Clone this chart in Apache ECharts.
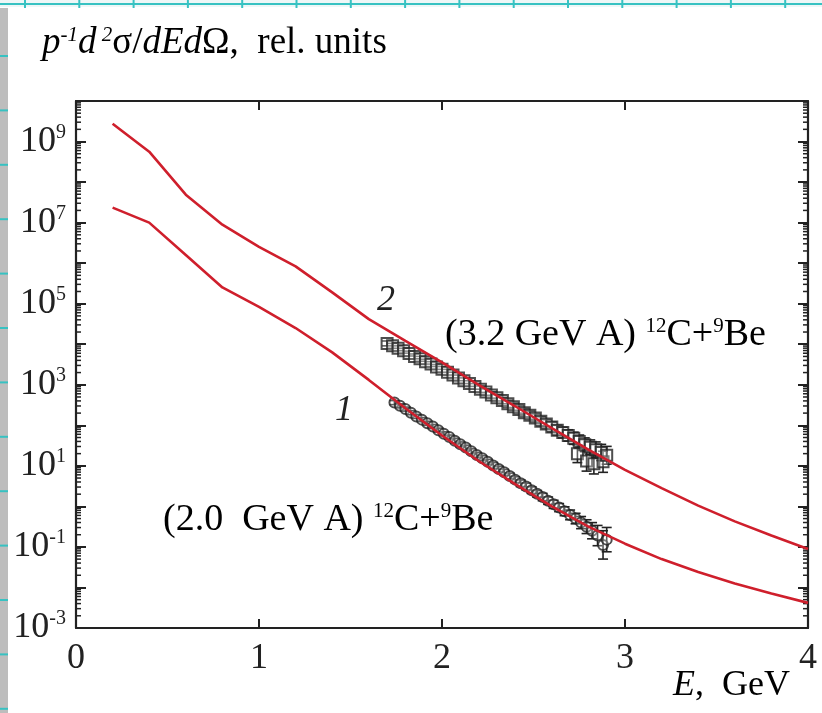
<!DOCTYPE html>
<html>
<head>
<meta charset="utf-8">
<script src="https://cdn.jsdelivr.net/npm/echarts@6/dist/echarts.min.js"></script>
<style>
  html, body { margin: 0; padding: 0; background: #ffffff; }
  #chart { width: 822px; height: 713px; }
</style>
</head>
<body>
<div id="chart"></div>
<script>
// Calculated spectra (log10 of p^-1 d2σ/dEdΩ, rel. units) on a common energy grid, GeV
const energyGrid = [0.2, 0.4, 0.6, 0.8, 1.0, 1.2, 1.4, 1.6, 1.8, 2.0, 2.2, 2.4, 2.6, 2.8, 3.0, 3.2, 3.4, 3.6, 3.8, 4.0];
const calc20Log = [7.37, 7.0, 6.2, 5.4, 4.92, 4.4, 3.8, 3.12, 2.42, 1.75, 1.12, 0.55, 0.0, -0.5, -0.92, -1.3, -1.62, -1.9, -2.15, -2.38];
const calc32Log = [9.44, 8.75, 7.69, 6.95, 6.4, 5.92, 5.28, 4.62, 4.08, 3.55, 3.0, 2.47, 1.93, 1.4, 0.9, 0.45, 0.02, -0.37, -0.72, -1.05];

// Measured points, 3.2 GeV/nucleon (squares): energy, log10 value, log10 error
const exp32E = [1.70, 1.73, 1.76, 1.79, 1.82, 1.85, 1.88, 1.91, 1.94, 1.97, 2.00, 2.03, 2.06, 2.09, 2.12, 2.15, 2.18, 2.21, 2.24, 2.27, 2.30, 2.33, 2.36, 2.39, 2.42, 2.45, 2.48, 2.51, 2.54, 2.57, 2.60, 2.63, 2.66, 2.69, 2.72, 2.74, 2.75, 2.78, 2.79, 2.81, 2.83, 2.84, 2.87, 2.88, 2.90];
const exp32Log = [4.02, 3.96, 3.90, 3.84, 3.77, 3.70, 3.64, 3.57, 3.51, 3.44, 3.38, 3.31, 3.24, 3.17, 3.10, 3.03, 2.96, 2.89, 2.82, 2.75, 2.68, 2.61, 2.53, 2.46, 2.39, 2.31, 2.25, 2.18, 2.10, 2.03, 1.96, 1.88, 1.82, 1.75, 1.68, 1.30, 1.60, 1.52, 1.12, 1.46, 1.05, 1.40, 1.33, 1.10, 1.26];
const exp32Err = [0.06, 0.06, 0.06, 0.06, 0.06, 0.06, 0.06, 0.06, 0.06, 0.06, 0.07, 0.07, 0.07, 0.07, 0.07, 0.07, 0.07, 0.08, 0.08, 0.08, 0.08, 0.08, 0.09, 0.09, 0.09, 0.10, 0.10, 0.10, 0.11, 0.11, 0.12, 0.12, 0.13, 0.14, 0.15, 0.22, 0.16, 0.17, 0.25, 0.18, 0.25, 0.19, 0.20, 0.26, 0.22];

// Measured points, 2.0 GeV/nucleon (circles)
const exp20E = [1.74, 1.77, 1.80, 1.83, 1.86, 1.89, 1.92, 1.95, 1.98, 2.01, 2.04, 2.07, 2.10, 2.13, 2.16, 2.19, 2.22, 2.25, 2.28, 2.31, 2.34, 2.37, 2.40, 2.43, 2.46, 2.49, 2.52, 2.55, 2.58, 2.61, 2.64, 2.67, 2.70, 2.73, 2.76, 2.79, 2.82, 2.85, 2.88, 2.90];
const exp20Log = [2.56, 2.48, 2.40, 2.31, 2.22, 2.14, 2.05, 1.97, 1.88, 1.79, 1.71, 1.62, 1.53, 1.45, 1.36, 1.27, 1.19, 1.10, 1.01, 0.92, 0.84, 0.75, 0.66, 0.57, 0.49, 0.40, 0.31, 0.23, 0.14, 0.05, -0.03, -0.12, -0.21, -0.30, -0.40, -0.50, -0.60, -0.72, -0.95, -0.82];
const exp20Err = [0.05, 0.05, 0.05, 0.05, 0.05, 0.05, 0.05, 0.05, 0.05, 0.05, 0.05, 0.06, 0.06, 0.06, 0.06, 0.06, 0.06, 0.06, 0.07, 0.07, 0.07, 0.07, 0.07, 0.08, 0.08, 0.08, 0.08, 0.09, 0.09, 0.10, 0.10, 0.11, 0.12, 0.13, 0.15, 0.17, 0.20, 0.25, 0.35, 0.30];

// Axis settings
const xTickValues = [0, 1, 2, 3, 4];
const yMinExp = -3;
const yMaxExp = 10;
const yLabelExps = [-3, -1, 1, 3, 5, 7, 9];

const SERIF = '"Liberation Serif", "Times New Roman", serif';
const INK = '#222222';
const RED = '#cf1f2c';

const pw = (e) => Math.pow(10, e);

const line32 = energyGrid.map((x, i) => [x, pw(calc32Log[i])]);
const line20 = energyGrid.map((x, i) => [x, pw(calc20Log[i])]);
const pts32 = exp32E.map((x, i) => [x, pw(exp32Log[i])]);
const pts20 = exp20E.map((x, i) => [x, pw(exp20Log[i])]);
const bars32 = exp32E.map((x, i) => [x, pw(exp32Log[i] - exp32Err[i]), pw(exp32Log[i] + exp32Err[i])]);
const bars20 = exp20E.map((x, i) => [x, pw(exp20Log[i] - exp20Err[i]), pw(exp20Log[i] + exp20Err[i])]);

// Minor log ticks (2..9 within every decade) for the left and right frame edges
const minorTicks = [];
for (let e = yMinExp; e < yMaxExp; e++) {
  for (let k = 2; k <= 9; k++) minorTicks.push([0, k * pw(e)]);
}

const supRich = {
  b: { fontFamily: SERIF, fontSize: 36, color: INK, lineHeight: 36, verticalAlign: 'bottom' },
  s: { fontFamily: SERIF, fontSize: 20, color: INK, lineHeight: 20, padding: [0, 0, 17, 0], verticalAlign: 'bottom' }
};

function errorBarItem(params, api) {
  const lo = api.coord([api.value(0), api.value(1)]);
  const hi = api.coord([api.value(0), api.value(2)]);
  const w = 5;
  const st = { stroke: INK, lineWidth: 1.6 };
  return {
    type: 'group',
    children: [
      { type: 'line', shape: { x1: lo[0], y1: lo[1], x2: hi[0], y2: hi[1] }, style: st },
      { type: 'line', shape: { x1: lo[0] - w, y1: lo[1], x2: lo[0] + w, y2: lo[1] }, style: st },
      { type: 'line', shape: { x1: hi[0] - w, y1: hi[1], x2: hi[0] + w, y2: hi[1] }, style: st }
    ]
  };
}

function minorTickItem(params, api) {
  const v = api.value(1);
  const L = api.coord([xTickValues[0], v]);
  const R = api.coord([xTickValues[xTickValues.length - 1], v]);
  const st = { stroke: INK, lineWidth: 1.5 };
  return {
    type: 'group',
    children: [
      { type: 'line', shape: { x1: L[0], y1: L[1], x2: L[0] + 5, y2: L[1] }, style: st },
      { type: 'line', shape: { x1: R[0] - 5, y1: R[1], x2: R[0], y2: R[1] }, style: st }
    ]
  };
}

// Graph-paper edge of the scanned page
const paper = [];
paper.push({ type: 'rect', shape: { x: 0, y: 0, width: 822, height: 7 }, style: { fill: '#eef7f7' }, z: -10 });
paper.push({ type: 'rect', shape: { x: 0, y: 8, width: 8, height: 705 }, style: { fill: '#bdbdbd' }, z: -9 });
paper.push({ type: 'line', shape: { x1: 0, y1: 4, x2: 822, y2: 4 }, style: { stroke: '#37c2c2', lineWidth: 2 }, z: -8 });
for (let x = 25; x < 822; x += 54.3) {
  paper.push({ type: 'line', shape: { x1: x, y1: 0, x2: x, y2: 8 }, style: { stroke: '#37c2c2', lineWidth: 2 }, z: -8 });
}
for (let y = 56; y < 713; y += 54.4) {
  paper.push({ type: 'line', shape: { x1: 0, y1: y, x2: 8, y2: y }, style: { stroke: '#37c2c2', lineWidth: 2 }, z: -8 });
}

const texts = [
  {
    type: 'text', left: 42, top: 25,
    style: {
      text: '{i|p}{s|-1}{i|d}{s| 2}{n|σ/}{i|dEd}{n|Ω,  rel. units}',
      rich: {
        i: { fontFamily: SERIF, fontStyle: 'italic', fontSize: 37, color: INK, lineHeight: 37, verticalAlign: 'bottom' },
        n: { fontFamily: SERIF, fontSize: 37, color: INK, lineHeight: 37, verticalAlign: 'bottom' },
        s: { fontFamily: SERIF, fontStyle: 'italic', fontSize: 21, color: INK, lineHeight: 21, padding: [0, 0, 16, 0], verticalAlign: 'bottom' }
      }
    }
  },
  {
    type: 'text', left: 377, top: 283,
    style: { text: '2', fontFamily: SERIF, fontStyle: 'italic', fontSize: 36, fill: INK }
  },
  {
    type: 'text', left: 335, top: 393,
    style: { text: '1', fontFamily: SERIF, fontStyle: 'italic', fontSize: 36, fill: INK }
  },
  {
    type: 'text', left: 445, top: 316,
    style: {
      text: '{b|(3.2 GeV A) }{s|12}{b|C+}{s|9}{b|Be}',
      rich: {
        b: { fontFamily: SERIF, fontSize: 38, color: INK, lineHeight: 38, verticalAlign: 'bottom' },
        s: { fontFamily: SERIF, fontSize: 21, color: INK, lineHeight: 21, padding: [0, 0, 17, 0], verticalAlign: 'bottom' }
      }
    }
  },
  {
    type: 'text', left: 163, top: 501,
    style: {
      text: '{b|(2.0  GeV A) }{s|12}{b|C+}{s|9}{b|Be}',
      rich: {
        b: { fontFamily: SERIF, fontSize: 38, color: INK, lineHeight: 38, verticalAlign: 'bottom' },
        s: { fontFamily: SERIF, fontSize: 21, color: INK, lineHeight: 21, padding: [0, 0, 17, 0], verticalAlign: 'bottom' }
      }
    }
  },
  {
    type: 'text', right: 32, top: 668,
    style: {
      text: '{i|E}{n|,  GeV}',
      rich: {
        i: { fontFamily: SERIF, fontStyle: 'italic', fontSize: 36, color: INK },
        n: { fontFamily: SERIF, fontSize: 36, color: INK }
      }
    }
  }
];

const frameLine = { show: true, onZero: false, lineStyle: { color: INK, width: 2.2 } };

const xAxisBase = {
  type: 'value', min: xTickValues[0], max: xTickValues[xTickValues.length - 1], interval: 1,
  axisLine: frameLine,
  axisTick: { show: true, inside: true, length: 9, lineStyle: { color: INK, width: 2 } },
  splitLine: { show: false }
};

const yAxisBase = {
  type: 'log', logBase: 10, min: pw(yMinExp), max: pw(yMaxExp), interval: 1,
  axisLine: frameLine,
  axisTick: { show: true, inside: true, length: 10, lineStyle: { color: INK, width: 2 } },
  splitLine: { show: false }
};

const chart = echarts.init(document.getElementById('chart'), null, { renderer: 'canvas' });

chart.setOption({
  backgroundColor: '#ffffff',
  animation: false,
  grid: { left: 76, right: 14, top: 101, bottom: 85 },
  graphic: paper.concat(texts),
  xAxis: [
    Object.assign({}, xAxisBase, {
      position: 'bottom',
      axisLabel: {
        show: true, margin: 13, showMinLabel: true, showMaxLabel: true,
        fontFamily: SERIF, fontSize: 36, color: INK,
        formatter: (v) => String(v)
      }
    }),
    Object.assign({}, xAxisBase, { position: 'top', axisLabel: { show: false } })
  ],
  yAxis: [
    Object.assign({}, yAxisBase, {
      position: 'left',
      axisLabel: {
        show: true, margin: 10, showMinLabel: true, showMaxLabel: true,
        formatter: (v) => {
          const e = Math.round(Math.log10(v));
          return yLabelExps.indexOf(e) >= 0 ? '{b|10}{s|' + e + '}' : '';
        },
        rich: supRich
      }
    }),
    Object.assign({}, yAxisBase, { position: 'right', axisLabel: { show: false } })
  ],
  series: [
    {
      name: 'minor ticks', type: 'custom', xAxisIndex: 0, yAxisIndex: 0,
      data: minorTicks, renderItem: minorTickItem, silent: true, clip: false, z: 3
    },
    {
      name: 'err 3.2', type: 'custom', data: bars32, renderItem: errorBarItem,
      encode: { x: 0, y: [1, 2] }, silent: true, z: 2
    },
    {
      name: 'err 2.0', type: 'custom', data: bars20, renderItem: errorBarItem,
      encode: { x: 0, y: [1, 2] }, silent: true, z: 2
    },
    {
      name: '3.2 GeV A data', type: 'scatter', data: pts32,
      symbol: 'rect', symbolSize: 11,
      itemStyle: { color: 'rgba(255,255,255,0.35)', borderColor: INK, borderWidth: 2 }, z: 3
    },
    {
      name: '2.0 GeV A data', type: 'scatter', data: pts20,
      symbol: 'circle', symbolSize: 10,
      itemStyle: { color: 'rgba(255,255,255,0.35)', borderColor: INK, borderWidth: 2 }, z: 3
    },
    {
      name: '3.2 GeV A calc', type: 'line', data: line32, showSymbol: false,
      lineStyle: { color: RED, width: 2.6 }, z: 5
    },
    {
      name: '2.0 GeV A calc', type: 'line', data: line20, showSymbol: false,
      lineStyle: { color: RED, width: 2.6 }, z: 5
    }
  ]
});
</script>
</body>
</html>
